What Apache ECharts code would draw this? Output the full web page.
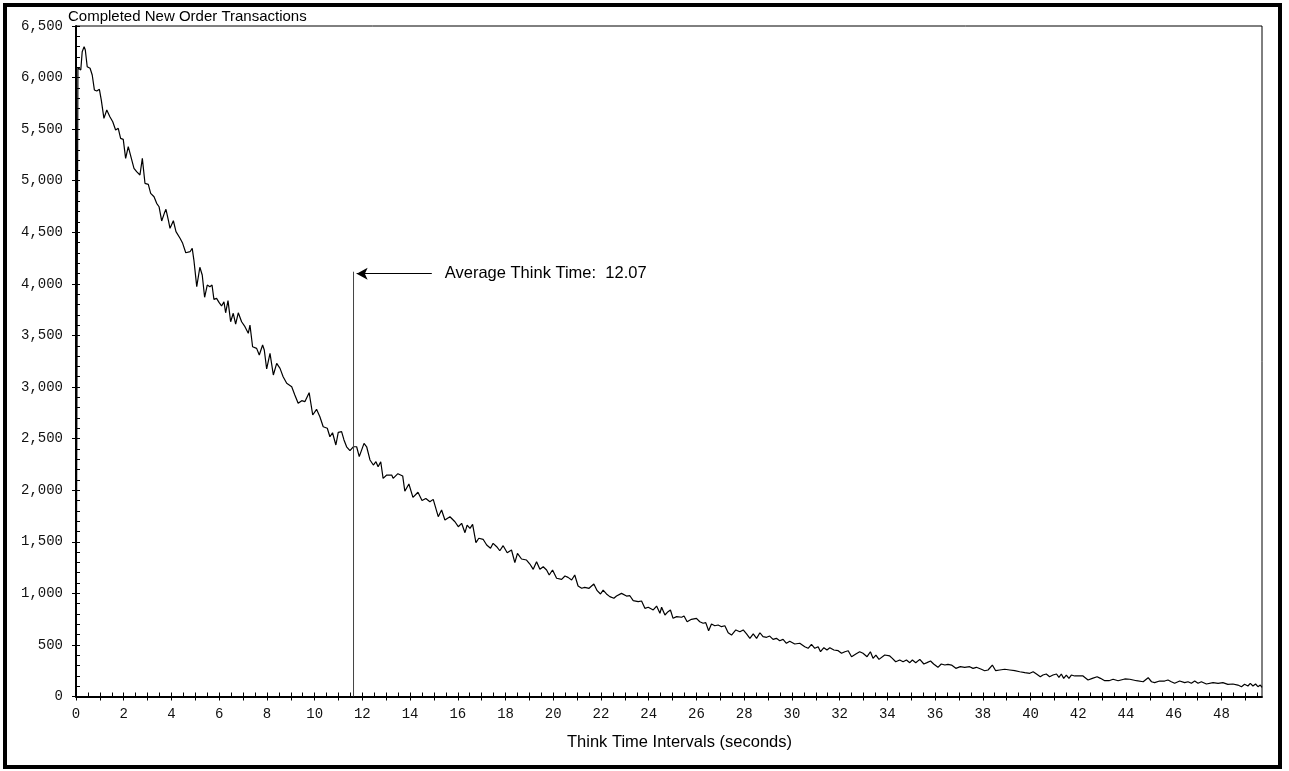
<!DOCTYPE html>
<html><head><meta charset="utf-8">
<script src="https://cdn.jsdelivr.net/npm/echarts@6/dist/echarts.min.js"></script>
<style>html,body{margin:0;padding:0;background:#fff;overflow:hidden}#c{width:1289px;height:771px}</style>
</head><body><div id="c"></div>
<script>
// ---- data ----
const thinkTime = [0,0.08,0.20,0.26,0.34,0.39,0.47,0.59,0.68,0.77,0.87,0.98,1.06,1.17,1.29,1.42,1.54,1.66,1.77,1.87,1.98,2.08,2.19,2.30,2.43,2.54,2.68,2.78,2.89,3.03,3.13,3.27,3.38,3.48,3.59,3.70,3.77,3.87,3.94,4.08,4.19,4.36,4.47,4.60,4.78,4.87,4.94,5.06,5.19,5.29,5.39,5.50,5.61,5.70,5.78,5.89,6.00,6.10,6.20,6.27,6.37,6.48,6.59,6.69,6.80,6.94,7.08,7.22,7.29,7.40,7.57,7.68,7.82,7.89,7.99,8.13,8.27,8.41,8.55,8.68,8.83,9.04,9.17,9.31,9.46,9.59,9.77,9.92,10.08,10.22,10.36,10.53,10.64,10.75,10.89,10.99,11.13,11.23,11.34,11.48,11.62,11.76,11.87,12.07,12.18,12.32,12.46,12.57,12.66,12.77,12.87,13.02,13.23,13.29,13.49,13.69,13.78,13.95,14.12,14.33,14.50,14.66,14.83,14.97,15.18,15.32,15.46,15.67,15.88,16.02,16.16,16.30,16.39,16.51,16.62,16.76,16.88,17.06,17.21,17.37,17.48,17.63,17.76,17.90,18.07,18.25,18.39,18.50,18.67,18.88,19.02,19.16,19.30,19.44,19.58,19.72,19.83,19.97,20.14,20.35,20.49,20.62,20.77,20.90,21.04,21.19,21.32,21.50,21.70,21.84,21.98,22.09,22.23,22.37,22.54,22.65,22.86,23.07,23.21,23.35,23.56,23.70,23.84,23.98,24.19,24.33,24.47,24.54,24.68,24.81,24.91,25.02,25.17,25.38,25.48,25.61,25.79,26.00,26.14,26.28,26.39,26.51,26.63,26.77,26.91,27.05,27.19,27.33,27.47,27.65,27.82,27.96,28.10,28.24,28.38,28.52,28.66,28.79,28.94,29.07,29.21,29.35,29.49,29.63,29.77,29.91,30.12,30.33,30.54,30.68,30.82,30.96,31.10,31.20,31.34,31.47,31.59,31.76,31.94,32.08,32.22,32.36,32.50,32.68,32.84,32.98,33.15,33.29,33.40,33.52,33.65,33.89,34.10,34.21,34.35,34.52,34.66,34.80,34.94,35.05,35.19,35.36,35.53,35.66,35.81,35.94,36.12,36.26,36.41,36.54,36.69,36.87,37.06,37.24,37.45,37.59,37.73,37.94,38.08,38.22,38.40,38.54,38.71,38.92,39.13,39.34,39.55,39.76,39.97,40.11,40.25,40.41,40.52,40.66,40.80,40.94,41.09,41.19,41.29,41.39,41.50,41.61,41.71,41.85,42.06,42.20,42.41,42.59,42.79,42.93,43.11,43.29,43.46,43.67,43.95,44.16,44.44,44.72,44.93,45.07,45.20,45.41,45.62,45.76,45.90,46.04,46.25,46.46,46.60,46.74,46.88,47.02,47.16,47.37,47.65,47.86,48.06,48.27,48.48,48.69,48.84,48.97,49.11,49.21,49.32,49.43,49.53,49.63,49.70];
const completed = [0,6096,6073,6251,6300,6267,6105,6090,6025,5880,5870,5886,5782,5605,5686,5621,5572,5492,5508,5411,5401,5217,5330,5233,5120,5088,5056,5217,4975,4965,4878,4845,4781,4748,4610,4684,4723,4619,4539,4612,4506,4442,4393,4302,4312,4345,4231,3973,4161,4086,3870,3989,3973,3989,3850,3860,3818,3786,3827,3720,3837,3633,3715,3611,3720,3633,3585,3521,3601,3391,3375,3310,3408,3359,3175,3327,3117,3230,3181,3100,3036,3003,2923,2842,2868,2858,2945,2729,2784,2712,2615,2600,2518,2557,2438,2561,2567,2487,2421,2383,2421,2421,2325,2454,2421,2293,2244,2276,2228,2276,2115,2147,2147,2115,2160,2138,1990,2060,1930,1980,1900,1920,1888,1911,1743,1808,1711,1743,1694,1646,1679,1588,1662,1630,1669,1491,1534,1524,1469,1437,1485,1452,1413,1462,1394,1420,1297,1388,1333,1323,1284,1233,1307,1233,1258,1226,1178,1226,1146,1136,1168,1155,1129,1178,1071,1049,1058,1049,1091,1026,994,1032,994,968,952,974,1000,974,977,929,919,926,855,865,839,877,807,865,790,822,839,758,774,768,780,725,748,758,725,710,716,638,703,686,693,677,686,618,596,645,628,645,606,564,606,564,618,580,574,586,554,564,541,554,516,535,509,516,483,467,506,467,483,434,473,451,473,451,444,419,434,444,386,412,434,419,386,434,370,402,360,402,393,370,337,354,337,354,328,354,328,360,315,328,344,315,283,315,305,312,305,273,289,283,289,273,283,264,250,257,305,250,257,264,257,250,240,231,225,240,218,192,208,218,192,208,218,186,218,176,208,176,208,199,199,199,160,176,192,176,153,153,167,153,170,167,153,143,182,143,134,150,150,160,143,128,150,134,143,128,150,128,143,121,134,128,134,118,121,111,95,118,102,128,102,121,95,111,89];
const xLabelValues = [0,2,4,6,8,10,12,14,16,18,20,22,24,26,28,30,32,34,36,38,40,42,44,46,48];
const xMajorTicks = [0,1,2,3,4,5,6,7,8,9,10,11,12,13,14,15,16,17,18,19,20,21,22,23,24,25,26,27,28,29,30,31,32,33,34,35,36,37,38,39,40,41,42,43,44,45,46,47,48,49];
const titleText = 'Completed New Order Transactions';
const xAxisTitle = 'Think Time Intervals (seconds)';
const avgLabel = 'Average Think Time:  12.07';
const avgMarkerX = 11.63, avgMarkerTop = 4118;
const arrowFromX = 14.91, arrowToX = 11.76, arrowY = 4099;

// ---- chart ----
const xMinorTicks = [];
for (let i = 0; i < xMajorTicks.length; i++) { xMinorTicks.push(xMajorTicks[i]); xMinorTicks.push(xMajorTicks[i] + 0.5); }
const mono = "'Liberation Mono','Courier New',monospace";
const sans = "'Liberation Sans',Arial,sans-serif";
const fmtThousands = v => String(v).replace(/\B(?=(\d{3})+(?!\d))/g, ',');
const XMAX = 49.7, YMAX = 6500;

const chart = echarts.init(document.getElementById('c'), null, {renderer: 'canvas'});
chart.setOption({
  animation: false,
  backgroundColor: '#fff',
  title: {text: titleText, left: 68, top: 9, padding: 0,
    textStyle: {fontFamily: sans, fontSize: 15, fontWeight: 'normal', color: '#000'}},
  grid: {left: 76, right: 27, top: 26, bottom: 74.5, show: true, borderColor: '#000', borderWidth: 1, outerBoundsMode: 'none'},
  xAxis: [
    {type: 'value', min: 0, max: XMAX, interval: 0.5, position: 'bottom',
     name: xAxisTitle, nameLocation: 'middle', nameGap: 37,
     nameTextStyle: {fontFamily: sans, fontSize: 16.5, color: '#000', padding: [0, 0, 0, 21]},
     axisLine: {show: true, onZero: false, lineStyle: {color: '#000', width: 2}},
     axisTick: {show: true, inside: true, length: 4, customValues: xMinorTicks, lineStyle: {color: '#000', width: 1}},
     axisLabel: {show: true, customValues: xLabelValues, margin: 11, fontFamily: mono, fontSize: 14, color: '#111'},
     splitLine: {show: false}},
    {type: 'value', min: 0, max: XMAX, interval: 1, position: 'bottom', gridIndex: 0,
     axisLine: {show: false, onZero: false},
     axisTick: {show: true, inside: false, length: 4, customValues: xMajorTicks, lineStyle: {color: '#000', width: 1}},
     axisLabel: {show: false}, splitLine: {show: false}}
  ],
  yAxis: [
    {type: 'value', min: 0, max: YMAX, interval: 500, position: 'left',
     axisLine: {show: true, onZero: false, lineStyle: {color: '#000', width: 2}},
     axisTick: {show: true, inside: true, length: 4, lineStyle: {color: '#000', width: 1}},
     minorTick: {show: true, splitNumber: 5, length: 4, lineStyle: {color: '#000', width: 1}},
     axisLabel: {show: true, margin: 13, fontFamily: mono, fontSize: 14, color: '#111', formatter: fmtThousands},
     splitLine: {show: false}},
    {type: 'value', min: 0, max: YMAX, interval: 500, position: 'left',
     axisLine: {show: false, onZero: false},
     axisTick: {show: true, inside: false, length: 4, lineStyle: {color: '#000', width: 1}},
     axisLabel: {show: false}, splitLine: {show: false}}
  ],
  series: [
    {type: 'line', name: 'completed', xAxisIndex: 0, yAxisIndex: 0,
     data: thinkTime.map((t, i) => [t, completed[i]]),
     showSymbol: false, symbol: 'none', smooth: false,
     lineStyle: {color: '#000', width: 1.2}, silent: true},
    {type: 'line', name: 'avg', xAxisIndex: 0, yAxisIndex: 0,
     data: [[avgMarkerX, 0], [avgMarkerX, avgMarkerTop]],
     showSymbol: false, symbol: 'none',
     lineStyle: {color: '#444', width: 1}, silent: true,
     markLine: {silent: true, symbol: ['none', 'arrow'], symbolSize: [9, 11],
       label: {show: false}, lineStyle: {color: '#000', width: 1, type: 'solid'},
       data: [[{coord: [arrowFromX, arrowY]}, {coord: [arrowToX, arrowY]}]]}}
  ]
});

const p = chart.convertToPixel({xAxisIndex: 0, yAxisIndex: 0}, [arrowFromX, arrowY]);
chart.setOption({
  graphic: [
    {type: 'rect', shape: {x: 5, y: 5, width: 1275, height: 762}, style: {fill: 'none', stroke: '#000', lineWidth: 4}, silent: true},
    {type: 'text', x: p[0] + 13, y: p[1], style: {text: avgLabel, fontFamily: sans, fontSize: 16.5, fill: '#000', verticalAlign: 'middle', align: 'left'}, silent: true}
  ]
});
</script></body></html>
